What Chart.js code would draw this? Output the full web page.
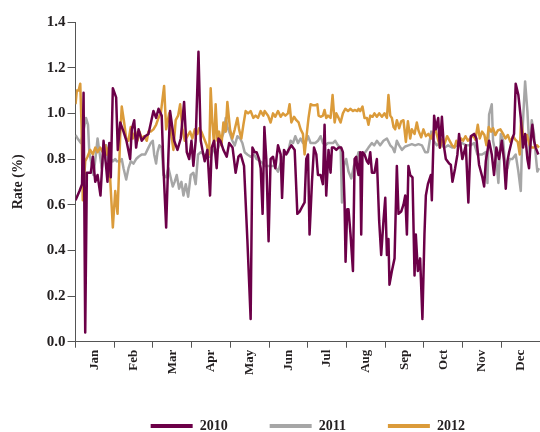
<!DOCTYPE html>
<html><head><meta charset="utf-8">
<script src="https://cdn.jsdelivr.net/npm/chart.js@4.4.1/dist/chart.umd.min.js"></script>
<style>html,body{margin:0;padding:0;background:#fff}#wrap{width:540px;height:432px;position:relative}</style>
</head><body><div id="wrap"><canvas id="c"></canvas></div>
<script>
const months = ['Jan','Feb','Mar','Apr','May','Jun','Jul','Aug','Sep','Oct','Nov','Dec'];
const yTicks = [0,0.2,0.4,0.6,0.8,1.0,1.2,1.4];
const seriesNames = ['2010','2011','2012'];

const days2010 = [0,3.1,5.1,6.3,7.6,8.9,12.0,13.6,15.5,17.3,19.6,22.0,23.8,25.1,26.5,27.7,29.3,31.9,33.2,35.1,37.7,40.0,42.9,44.2,46.1,47.6,49.5,52.0,54.7,57.3,61.2,63.3,65.2,67.7,69.1,71.2,73.0,74.3,77.5,80.1,82.7,85.3,87.4,89.3,91.1,92.6,94.4,96.6,98.4,99.7,101.5,103.6,105.7,107.0,108.9,110.9,112.3,113.8,116.2,118.8,120.7,123.4,125.8,128.0,129.8,132.4,135.0,137.6,139.0,140.8,142.3,144.2,145.5,147.0,148.4,149.9,151.7,153.3,155.2,157.0,159.1,161.2,162.3,163.8,165.6,167.4,169.6,172.2,174.3,176.1,178.0,180.0,181.3,182.7,183.9,185.8,187.4,189.2,190.5,192.6,194.4,195.7,197.0,198.8,200.4,201.5,203.1,204.9,206.7,208.8,210.1,211.4,212.2,213.5,214.5,216.1,218.0,219.3,220.6,221.4,222.4,223.7,224.5,225.5,227.1,229.0,230.2,231.6,232.9,234.9,236.8,238.6,240.2,242.0,243.4,244.7,245.9,246.7,248.6,250.7,252.5,253.8,255.9,257.7,259.1,260.4,261.6,263.0,264.8,266.4,267.4,269.0,270.8,272.6,274.2,275.3,276.9,279.2,280.0,281.8,283.1,285.0,286.3,287.9,289.4,291.0,293.6,294.9,296.2,298.3,300.1,301.4,302.8,304.0,306.7,308.7,310.6,313.2,315.0,317.1,319.7,321.1,322.4,325.0,327.1,328.9,330.7,332.8,335.0,336.8,338.1,339.4,340.7,343.3,344.6,345.9,348.0,349.9,351.7,353.3,355.1,356.4,357.7,359.0,360.3,361.6,363.7];
const rate2010 = [0.62,0.66,0.69,1.09,0.04,0.74,0.74,0.81,0.70,0.73,0.64,0.88,0.78,0.70,0.87,0.72,1.11,1.07,0.84,0.96,0.92,0.88,0.80,0.93,0.97,0.85,0.93,0.88,0.90,0.91,1.01,0.98,1.02,0.99,0.76,0.50,0.82,1.01,0.88,0.84,0.89,1.05,0.83,0.80,0.88,0.77,0.88,1.27,0.88,0.84,0.79,0.84,0.64,0.85,0.88,0.76,0.89,0.88,0.84,0.81,0.87,0.85,0.74,0.81,0.82,0.77,0.45,0.10,0.85,0.83,0.83,0.80,0.76,0.56,0.94,0.80,0.44,0.80,0.81,0.76,0.86,0.82,0.63,0.84,0.82,0.84,0.86,0.84,0.56,0.57,0.59,0.61,0.80,0.82,0.47,0.70,0.85,0.82,0.73,0.73,0.69,0.95,0.64,0.84,0.74,0.85,0.85,0.84,0.85,0.85,0.83,0.61,0.35,0.58,0.58,0.47,0.31,0.80,0.81,0.76,0.73,0.83,0.47,0.83,0.82,0.79,0.78,0.83,0.74,0.74,0.80,0.53,0.38,0.53,0.63,0.38,0.45,0.25,0.31,0.365,0.77,0.56,0.57,0.60,0.64,0.47,0.77,0.73,0.72,0.29,0.47,0.31,0.365,0.10,0.47,0.64,0.69,0.73,0.62,0.99,0.93,0.98,0.85,0.985,0.86,0.80,0.78,0.775,0.70,0.76,0.82,0.91,0.85,0.80,0.86,0.61,0.90,0.91,0.89,0.775,0.72,0.68,0.79,0.88,0.82,0.73,0.85,0.80,0.88,0.79,0.67,0.79,0.83,0.89,0.91,1.13,1.08,0.98,0.85,0.91,0.80,0.76,0.88,0.95,0.88,0.85,0.82];

const days2011 = [0,1.6,4.2,8.2,9.8,10.8,12.8,14.1,16.2,17.3,18.8,20.6,22.5,24.1,25.9,27.7,29.3,31.2,32.4,35.1,36.3,37.7,39.8,41.6,43.4,45.5,47.6,49.5,52.0,54.7,57.3,59.1,60.7,61.8,63.3,64.4,65.9,67.7,69.1,71.2,73.0,74.3,76.4,77.9,79.5,81.4,83.2,84.8,86.6,88.5,90.5,92.6,94.4,96.3,98.4,101.0,103.6,106.2,108.9,110.9,112.8,114.6,116.7,118.0,119.3,121.4,123.2,125.1,127.2,129.3,131.1,132.9,135.0,137.6,140.3,142.3,145.0,147.6,148.6,151.3,153.9,156.4,159.1,161.7,164.3,167.0,169.0,170.9,172.7,174.8,176.9,178.7,180.6,182.7,184.7,186.6,188.4,190.5,192.6,194.4,196.3,198.4,200.4,202.3,204.1,206.2,208.3,209.4,210.9,212.7,214.5,216.7,218.8,220.6,222.4,225.1,227.7,230.2,232.9,234.7,236.8,239.4,242.0,244.7,247.3,249.1,250.7,252.5,254.3,256.5,259.1,261.6,264.3,266.9,269.5,272.2,274.8,276.9,279.5,281.3,283.9,286.5,289.7,292.8,296.2,299.9,303.8,306.9,310.6,313.2,315.8,319.5,322.4,323.7,325.0,327.1,328.1,330.2,332.3,334.2,336.0,337.6,339.4,341.2,343.3,345.9,348.0,349.9,351.1,353.3,355.1,356.9,358.5,360.3,361.6,362.9,364.2];
const rate2011 = [0.905,0.89,0.87,0.98,0.95,0.83,0.77,0.73,0.83,0.89,0.83,0.76,0.82,0.86,0.78,0.80,0.79,0.80,0.79,0.79,0.80,0.76,0.71,0.76,0.79,0.78,0.80,0.81,0.82,0.82,0.85,0.87,0.88,0.82,0.78,0.83,0.86,0.85,0.73,0.72,0.76,0.73,0.68,0.70,0.73,0.67,0.70,0.64,0.69,0.635,0.73,0.74,0.69,0.82,0.83,0.82,0.81,0.81,0.85,0.83,0.86,0.89,0.92,0.98,0.94,0.91,0.88,0.86,0.90,0.89,0.87,0.83,0.82,0.81,0.82,0.80,0.79,0.78,0.77,0.77,0.77,0.77,0.745,0.79,0.82,0.83,0.88,0.87,0.90,0.87,0.89,0.87,0.87,0.90,0.87,0.87,0.87,0.88,0.90,0.87,0.86,0.87,0.87,0.87,0.88,0.86,0.85,0.61,0.77,0.80,0.745,0.715,0.77,0.79,0.83,0.82,0.83,0.85,0.87,0.86,0.88,0.86,0.88,0.89,0.86,0.85,0.83,0.88,0.86,0.84,0.855,0.86,0.865,0.86,0.865,0.86,0.83,0.83,0.92,0.88,0.86,0.87,0.85,0.86,0.85,0.86,0.87,0.86,0.86,0.87,0.82,0.82,0.83,0.695,0.995,1.04,0.88,0.82,0.695,0.91,0.88,0.78,0.76,0.80,0.80,0.82,0.745,0.66,0.91,1.14,1.01,0.82,0.97,0.91,0.82,0.745,0.76];

const days2012 = [0,1.0,2.4,3.7,4.7,5.7,7.6,9.4,11.5,13.6,15.5,17.3,19.4,21.4,23.3,24.6,25.9,27.2,29.3,31.2,33.0,35.1,36.3,38.2,39.8,41.6,43.4,45.0,46.9,48.7,50.2,52.0,53.9,56.0,57.3,59.1,61.2,63.3,65.2,67.0,68.5,69.6,71.2,73.6,75.4,76.9,78.7,80.6,82.2,84.0,85.8,87.9,90.0,91.8,93.7,95.8,97.1,98.9,101.0,103.1,105.0,106.2,107.5,108.9,110.1,111.5,112.8,114.6,116.2,118.0,119.3,121.4,123.2,125.1,127.2,128.5,130.3,131.9,133.7,135.6,137.6,139.7,141.5,143.4,145.5,147.6,148.6,151.3,153.3,155.2,157.0,159.1,161.2,163.0,164.9,166.9,168.2,169.6,171.7,173.5,175.3,176.9,178.7,180.0,181.9,183.1,184.7,186.6,188.4,190.0,191.0,192.6,194.4,195.7,197.0,198.4,200.4,202.0,203.6,204.9,206.7,208.3,210.1,212.0,214.1,216.1,218.0,219.3,221.4,222.4,223.7,225.5,227.1,229.0,230.2,231.6,233.4,234.9,236.8,238.6,240.8,242.8,244.7,245.9,247.3,248.6,249.9,251.2,252.5,254.3,255.9,257.7,259.6,261.2,263.0,264.3,266.4,268.2,269.5,271.6,273.4,275.3,277.3,279.5,281.3,282.6,284.7,286.5,287.9,289.9,292.0,295.9,297.8,299.3,301.2,303.0,304.6,306.4,308.3,310.3,312.4,314.2,316.1,317.7,319.5,321.3,322.9,324.7,326.6,328.1,329.9,331.8,333.9,336.0,337.8,339.7,341.7,343.8,345.6,347.5,349.1,350.1,351.7,353.5,354.8,356.9,358.7,360.6,362.7,364.2];
const rate2012 = [1.04,1.10,1.10,1.13,0.95,0.62,0.79,0.81,0.84,0.82,0.85,0.83,0.85,0.83,0.86,0.82,0.85,0.715,0.50,0.66,0.56,0.905,1.03,0.96,0.89,0.88,0.94,0.89,0.92,0.88,0.92,0.89,0.90,0.88,0.92,0.92,0.93,0.95,0.98,1.0,1.07,1.12,0.93,1.00,0.90,0.84,0.97,0.99,1.04,0.93,0.88,0.90,0.92,0.89,0.93,0.91,0.935,0.92,0.89,0.86,0.82,1.11,0.96,0.86,1.04,0.88,0.92,0.86,0.96,0.92,1.05,0.93,0.89,0.93,0.98,0.93,0.89,0.95,1.01,1.00,1.01,0.98,0.99,0.98,1.01,0.99,1.01,0.99,0.96,1.00,0.985,1.01,0.985,1.00,0.99,1.00,1.04,0.96,0.985,0.97,0.96,0.93,0.91,0.82,0.92,0.98,1.04,1.035,1.035,1.04,0.99,0.985,0.99,1.015,0.98,0.99,0.98,1.08,0.96,1.0,0.98,0.96,1.0,1.02,1.01,1.02,1.01,1.015,1.01,1.02,1.01,1.03,0.98,0.98,0.95,0.99,0.985,1.0,0.985,1.0,0.985,1.0,0.98,1.08,0.99,0.98,0.94,0.93,0.97,0.935,0.965,0.97,0.875,0.965,0.89,0.93,0.91,0.96,0.925,0.895,0.93,0.90,0.91,0.89,0.92,0.935,0.89,0.85,0.885,0.865,0.90,0.86,0.85,0.88,0.86,0.89,0.88,0.90,0.88,0.89,0.905,0.885,0.95,0.89,0.92,0.905,0.86,0.94,0.92,0.935,0.905,0.925,0.93,0.91,0.89,0.905,0.875,0.90,0.885,0.875,0.82,0.97,0.905,0.875,0.905,0.86,0.85,0.85,0.86,0.85];

const colors = ['rgb(108,0,72)','rgb(166,166,166)','rgb(219,155,58)'];

function pts(d, r) {
  const n = Math.min(d.length, r.length);
  const out = [];
  for (let i = 0; i < n; i++) out.push({x: d[i], y: r[i]});
  return out;
}

const serif = "'Liberation Serif', 'Times New Roman', serif";
const textColor = '#231f20';
const axisColor = '#555555';

const mk = (i, d, r, order) => ({
  label: seriesNames[i], data: pts(d, r), xAxisID: 'xd', yAxisID: 'y',
  borderColor: colors[i], backgroundColor: colors[i], borderWidth: 2.5,
  pointRadius: 0, pointHoverRadius: 0, tension: 0, fill: false,
  borderJoinStyle: 'round', order: order
});

new Chart(document.getElementById('c'), {
  type: 'line',
  data: {
    labels: months,
    datasets: [mk(0, days2010, rate2010, 0), mk(1, days2011, rate2011, 2), mk(2, days2012, rate2012, 1)]
  },
  options: {
    responsive: true, maintainAspectRatio: false, animation: false,
    layout: {padding: {left: 6, right: 0, top: 22, bottom: 0}},
    plugins: {
      tooltip: {enabled: false},
      legend: {
        position: 'bottom', fullSize: false, maxHeight: 55,
        labels: {
          usePointStyle: true, pointStyle: 'line', pointStyleWidth: 42,
          padding: 42, color: textColor,
          font: {family: serif, size: 14, weight: 'bold'},
          sort: (a, b) => a.datasetIndex - b.datasetIndex,
          generateLabels: (chart) => {
            const items = Chart.defaults.plugins.legend.labels.generateLabels(chart);
            items.forEach(it => { it.lineWidth = 4; it.pointStyle = 'line'; });
            return items;
          }
        }
      }
    },
    scales: {
      x: {
        type: 'category', position: 'bottom', offset: true,
        grid: {offset: true, drawOnChartArea: false, tickLength: 6, color: axisColor},
        border: {color: axisColor, width: 1},
        ticks: {maxRotation: 90, minRotation: 90, padding: 2, autoSkip: false, color: textColor,
                font: {family: serif, size: 13, weight: 'bold'}}
      },
      xd: {type: 'linear', display: false, min: 0, max: 365},
      y: {
        min: 0, max: 1.4,
        afterBuildTicks: (s) => { s.ticks = yTicks.map(v => ({value: v})); },
        ticks: {callback: (v) => Number(v).toFixed(1), padding: 2, color: textColor,
                font: {family: serif, size: 15, weight: 'bold'}},
        grid: {drawOnChartArea: false, tickLength: 8, color: axisColor},
        border: {color: axisColor, width: 1},
        title: {display: true, text: 'Rate (%)', color: textColor,
                font: {family: serif, size: 14, weight: 'bold'}, padding: {top: 4, bottom: 18}}
      }
    }
  }
});
</script>
</body></html>
